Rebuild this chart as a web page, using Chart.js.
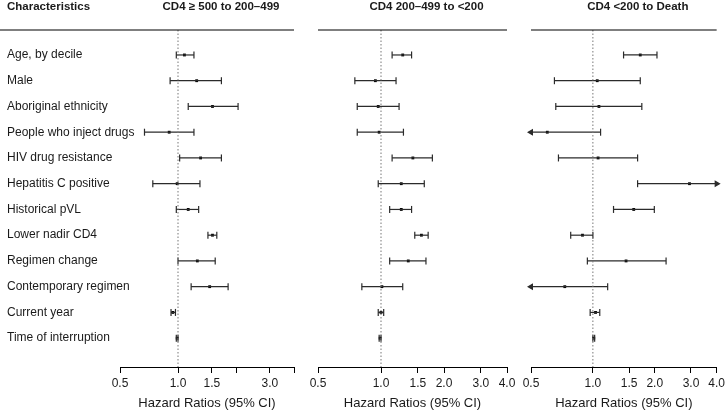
<!DOCTYPE html>
<html>
<head>
<meta charset="utf-8">
<script src="https://cdn.jsdelivr.net/npm/chart.js@4.4.1/dist/chart.umd.min.js"></script>
<style>
  body { margin: 0; background: #fff; }
  #wrap { position: relative; width: 728px; height: 411px; }
  canvas { position: absolute; top: 0; }
</style>
</head>
<body>
<div id="wrap">
  <canvas id="p1" width="300" height="411" style="left:0px"></canvas>
  <canvas id="p2" width="225" height="411" style="left:300px"></canvas>
  <canvas id="p3" width="218" height="411" style="left:510px"></canvas>
</div>
<script>
const rows = ["Age, by decile", "Male", "Aboriginal ethnicity", "People who inject drugs",
  "HIV drug resistance", "Hepatitis C positive", "Historical pVL", "Lower nadir CD4",
  "Regimen change", "Contemporary regimen", "Current year", "Time of interruption"];

// CD4 >= 500 to 200-499
const hr1   = [1.08, 1.25, 1.51, 0.90, 1.31, 0.99, 1.13, 1.51, 1.26, 1.46, 0.94, 0.99];
const low1  = [0.98, 0.91, 1.13, 0.67, 1.02, 0.74, 0.98, 1.43, 1.00, 1.17, 0.92, 0.98];
const high1 = [1.21, 1.68, 2.05, 1.21, 1.68, 1.30, 1.28, 1.59, 1.56, 1.82, 0.97, 1.00];

// CD4 200-499 to <200
const hr2   = [1.27, 0.94, 0.97, 0.98, 1.42, 1.25, 1.25, 1.56, 1.35, 1.01, 1.00, 0.99];
const low2  = [1.13, 0.75, 0.77, 0.77, 1.13, 0.97, 1.10, 1.45, 1.10, 0.81, 0.97, 0.98];
const high2 = [1.40, 1.18, 1.22, 1.28, 1.76, 1.61, 1.40, 1.68, 1.64, 1.27, 1.03, 1.00];

// CD4 <200 to Death
const hr3   = [1.70, 1.05, 1.07, 0.60, 1.06, 2.95, 1.58, 0.89, 1.45, 0.73, 1.03, 1.01];
const low3  = [1.41, 0.65, 0.66, 0.45, 0.68, 1.65, 1.26, 0.78, 0.94, 0.45, 0.97, 1.00];
const high3 = [2.05, 1.70, 1.73, 1.09, 1.65, 5.30, 1.99, 1.00, 2.27, 1.18, 1.08, 1.02];

const tickVals = [0.5, 1, 1.5, 2, 3, 4];
const tickText1 = ["0.5", "1.0", "1.5", "", "3.0", ""];
const tickText = ["0.5", "1.0", "1.5", "2.0", "3.0", "4.0"];

const xMin = 0.5, xMax = 4;
const yMin = -0.97, yMax = 12.12;
const txt = "#1a1a1a";
const ciColor = "#2b2b2b";
Chart.defaults.font.family = '"Liberation Sans", Arial, Helvetica, sans-serif';

const headerPlugin = {
  id: "header",
  afterDraw(chart, args, o) {
    const ctx = chart.ctx, a = chart.chartArea;
    ctx.save();
    ctx.strokeStyle = "#000";
    ctx.lineWidth = 1.2;
    ctx.beginPath();
    ctx.moveTo(o.lineLeft != null ? o.lineLeft : a.left, a.top);
    ctx.lineTo(a.right, a.top);
    ctx.stroke();
    ctx.fillStyle = txt;
    ctx.font = 'bold 11.5px "Liberation Sans", Arial, sans-serif';
    ctx.textBaseline = "middle";
    ctx.textAlign = "center";
    ctx.fillText(o.title, (a.left + a.right) / 2 + 14, 7);
    if (o.first) {
      ctx.textAlign = "left";
      ctx.fillText(o.first, 7, 7);
    }
    ctx.restore();
  }
};

function drawPanel(id, title, hr, low, high, opt) {
  const datasets = [];
  // dotted line at HR = 1
  datasets.push({
    data: [{x: 1, y: yMin}, {x: 1, y: yMax}],
    showLine: true, borderColor: "#777", borderWidth: 1, borderDash: [1.5, 2],
    pointRadius: 0
  });
  // confidence intervals (arrow where the CI runs off the axis)
  rows.forEach((r, i) => {
    const cutLow = low[i] < xMin, cutHigh = high[i] > xMax;
    datasets.push({
      data: [{x: Math.max(low[i], xMin), y: i}, {x: Math.min(high[i], xMax), y: i}],
      showLine: true, borderColor: ciColor, borderWidth: 1.2,
      pointStyle: [cutLow ? "triangle" : "line", cutHigh ? "triangle" : "line"],
      rotation: [cutLow ? -90 : 90, 90],
      pointRadius: [cutLow ? 2.8 : 3.5, cutHigh ? 2.8 : 3.5],
      pointBorderWidth: 1.2,
      pointBorderColor: ciColor, pointBackgroundColor: ciColor,
      clip: false
    });
  });
  // point estimates
  datasets.push({
    data: hr.map((v, i) => ({x: v, y: i})),
    showLine: false, pointStyle: "rect", pointRadius: 2,
    pointBackgroundColor: "#000", pointBorderWidth: 0, clip: false
  });

  return new Chart(document.getElementById(id), {
    type: "scatter",
    data: {datasets: datasets},
    options: {
      responsive: false,
      animation: false,
      events: [],
      layout: {padding: {top: 30, left: opt.padL, right: opt.padR, bottom: 0}},
      plugins: {
        legend: {display: false},
        tooltip: {enabled: false},
        header: {title: title, first: opt.first, lineLeft: opt.lineLeft}
      },
      scales: {
        x: {
          type: "logarithmic", min: xMin, max: xMax,
          afterBuildTicks: s => { s.ticks = tickVals.map(v => ({value: v})); },
          afterFit: s => { s.height = 44; },
          ticks: {
            autoSkip: false, maxRotation: 0, padding: 3, color: txt,
            font: {size: 12},
            callback: (v, i) => opt.ticks[i]
          },
          grid: {drawOnChartArea: false, drawTicks: true, tickLength: 6, color: "#000", lineWidth: 1},
          border: {display: true, color: "#000", width: 1},
          title: {display: true, text: "Hazard Ratios (95% CI)", color: txt, font: {size: 13}, padding: 0}
        },
        y: {
          type: "linear", reverse: true, min: yMin, max: yMax,
          display: opt.showRows,
          afterBuildTicks: s => { s.ticks = rows.map((r, i) => ({value: i})); },
          afterFit: s => { s.width = opt.showRows ? 113 : 0; },
          ticks: {mirror: true, crossAlign: "near", padding: -113, color: txt, font: {size: 12},
            callback: v => rows[v]},
          grid: {display: false, drawTicks: false},
          border: {display: false}
        }
      }
    },
    plugins: [headerPlugin]
  });
}

drawPanel("p1", "CD4 \u2265 500 to 200\u2013499", hr1, low1, high1,
  {padL: 7, padR: 6, showRows: true, first: "Characteristics", lineLeft: 0, ticks: tickText1});
drawPanel("p2", "CD4 200\u2013499 to <200", hr2, low2, high2,
  {padL: 18, padR: 18, showRows: false, ticks: tickText});
drawPanel("p3", "CD4 <200 to Death", hr3, low3, high3,
  {padL: 21, padR: 9, showRows: false, ticks: tickText});
</script>
</body>
</html>
